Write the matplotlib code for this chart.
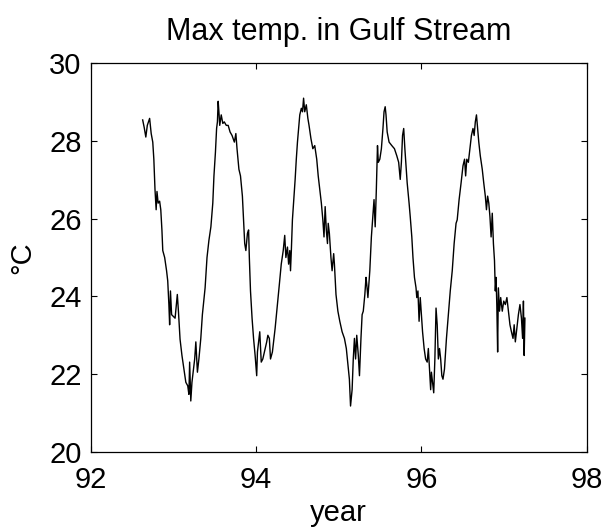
import matplotlib
matplotlib.use("Agg")
import matplotlib.pyplot as plt

plt.rcParams['font.family'] = ['Liberation Sans', 'DejaVu Sans']

# Daily maximum temperature in the Gulf Stream (year since 1900, deg C)
years = [
    92.628, 92.647, 92.666, 92.684, 92.712, 92.731, 92.750, 92.763, 92.777, 92.791,
    92.801, 92.815, 92.833, 92.847, 92.861, 92.871, 92.894, 92.917, 92.931, 92.945,
    92.954, 92.964, 92.978, 92.996, 93.020, 93.047, 93.061, 93.080, 93.103, 93.127,
    93.150, 93.173, 93.187, 93.196, 93.210, 93.224, 93.243, 93.257, 93.271, 93.290,
    93.308, 93.331, 93.350, 93.383, 93.406, 93.429, 93.453, 93.476, 93.490, 93.508,
    93.522, 93.532, 93.541, 93.550, 93.560, 93.578, 93.597, 93.615, 93.639, 93.662,
    93.685, 93.709, 93.737, 93.755, 93.769, 93.792, 93.811, 93.834, 93.848, 93.862,
    93.876, 93.895, 93.909, 93.918, 93.932, 93.951, 93.969, 93.988, 94.007, 94.016,
    94.030, 94.044, 94.062, 94.081, 94.100, 94.128, 94.142, 94.160, 94.174, 94.197,
    94.230, 94.258, 94.281, 94.304, 94.328, 94.346, 94.360, 94.379, 94.393, 94.407,
    94.416, 94.426, 94.439, 94.453, 94.472, 94.486, 94.500, 94.514, 94.528, 94.547,
    94.561, 94.574, 94.588, 94.607, 94.626, 94.640, 94.663, 94.686, 94.709, 94.733,
    94.751, 94.770, 94.789, 94.807, 94.821, 94.835, 94.849, 94.863, 94.872, 94.886,
    94.905, 94.919, 94.938, 94.947, 94.966, 94.989, 95.012, 95.040, 95.068, 95.091,
    95.115, 95.128, 95.142, 95.161, 95.175, 95.189, 95.203, 95.217, 95.236, 95.250,
    95.268, 95.282, 95.296, 95.315, 95.329, 95.338, 95.352, 95.375, 95.394, 95.412,
    95.426, 95.440, 95.454, 95.468, 95.478, 95.496, 95.515, 95.534, 95.547, 95.561,
    95.571, 95.585, 95.608, 95.641, 95.673, 95.701, 95.724, 95.743, 95.757, 95.771,
    95.785, 95.799, 95.813, 95.827, 95.850, 95.864, 95.883, 95.897, 95.915, 95.934,
    95.943, 95.957, 95.971, 95.985, 95.999, 96.013, 96.032, 96.050, 96.069, 96.083,
    96.097, 96.111, 96.120, 96.134, 96.148, 96.162, 96.176, 96.190, 96.204, 96.218,
    96.232, 96.246, 96.260, 96.278, 96.302, 96.325, 96.348, 96.372, 96.395, 96.418,
    96.432, 96.455, 96.479, 96.502, 96.521, 96.534, 96.548, 96.567, 96.586, 96.604,
    96.623, 96.637, 96.651, 96.665, 96.679, 96.693, 96.711, 96.735, 96.753, 96.772,
    96.786, 96.800, 96.814, 96.828, 96.842, 96.856, 96.870, 96.883, 96.893, 96.902,
    96.911, 96.921, 96.930, 96.944, 96.958, 96.977, 96.995, 97.014, 97.033, 97.051,
    97.070, 97.088, 97.107, 97.121, 97.135, 97.154, 97.172, 97.191, 97.209, 97.223,
    97.233, 97.242, 97.251,
]

temps = [
    28.54, 28.34, 28.10, 28.40, 28.58, 28.19, 27.97, 27.53, 26.75, 26.23,
    26.70, 26.40, 26.45, 26.23, 25.70, 25.18, 25.00, 24.66, 24.40, 23.79,
    23.27, 24.14, 23.53, 23.49, 23.44, 24.05, 23.60, 22.90, 22.48, 22.13,
    21.79, 21.70, 21.48, 22.31, 21.31, 21.79, 22.13, 22.39, 22.83, 22.05,
    22.39, 22.92, 23.53, 24.22, 25.00, 25.44, 25.79, 26.40, 27.10, 27.71,
    28.32, 28.49, 29.02, 28.75, 28.40, 28.67, 28.45, 28.49, 28.40, 28.40,
    28.23, 28.14, 27.97, 28.19, 27.80, 27.27, 27.10, 26.58, 25.97, 25.36,
    25.18, 25.62, 25.71, 25.00, 24.14, 23.44, 22.92, 22.48, 21.96, 22.57,
    22.83, 23.09, 22.31, 22.39, 22.57, 22.83, 23.00, 22.92, 22.39, 22.57,
    23.18, 23.79, 24.31, 24.83, 25.18, 25.57, 25.00, 25.27, 24.83, 25.18,
    24.66, 25.18, 25.97, 26.40, 27.01, 27.53, 27.97, 28.32, 28.67, 28.84,
    28.75, 29.10, 28.75, 28.93, 28.58, 28.40, 28.06, 27.80, 27.88, 27.53,
    27.10, 26.75, 26.40, 25.97, 25.53, 26.31, 25.71, 25.36, 25.88, 25.62,
    25.00, 24.66, 25.10, 24.83, 24.05, 23.62, 23.36, 23.09, 22.92, 22.66,
    22.13, 21.87, 21.18, 21.60, 22.39, 22.92, 22.39, 23.00, 22.48, 21.96,
    22.92, 23.53, 23.62, 24.05, 24.49, 24.31, 23.97, 24.66, 25.53, 26.05,
    26.49, 25.79, 26.75, 27.88, 27.45, 27.53, 27.80, 28.32, 28.75, 28.88,
    28.67, 28.23, 27.97, 27.88, 27.80, 27.62, 27.45, 27.01, 27.45, 28.14,
    28.32, 27.80, 27.36, 26.92, 26.40, 26.05, 25.53, 25.00, 24.49, 24.22,
    23.97, 24.14, 23.36, 23.97, 23.53, 23.09, 22.66, 22.39, 22.31, 22.66,
    22.13, 21.60, 22.05, 21.79, 21.52, 22.39, 23.70, 23.27, 22.39, 22.66,
    22.39, 21.96, 21.87, 22.13, 22.92, 23.53, 24.14, 24.66, 25.36, 25.88,
    25.97, 26.49, 26.92, 27.36, 27.53, 27.10, 27.53, 27.45, 27.80, 28.14,
    28.32, 28.14, 28.49, 28.67, 28.32, 27.97, 27.62, 27.27, 26.92, 26.58,
    26.23, 26.58, 26.40, 26.05, 25.53, 26.14, 25.36, 24.92, 24.14, 24.49,
    23.79, 22.57, 24.22, 23.62, 23.97, 23.62, 23.88, 23.79, 23.97, 23.62,
    23.27, 23.09, 22.92, 23.27, 22.83, 23.18, 23.53, 23.79, 23.44, 22.92,
    23.88, 22.48, 23.44,
]

x_ticks = [92, 94, 96, 98]
y_ticks = [20, 22, 24, 26, 28, 30]

fig = plt.figure(figsize=(6.05, 5.31), dpi=100)
ax = fig.add_axes([0.150, 0.149, 0.820, 0.732])

ax.plot(years, temps, color='black', linewidth=1.0)

ax.set_xlim(92, 98)
ax.set_ylim(20, 30)
ax.set_xticks(x_ticks)
ax.set_yticks(y_ticks)
ax.tick_params(direction='in', length=4.5, width=0.8, top=True, right=True,
               labelsize=21)
ax.tick_params(axis='x', pad=10.5)
ax.tick_params(axis='y', pad=6.5)
for spine in ax.spines.values():
    spine.set_linewidth(0.9)

ax.set_title('Max temp. in Gulf Stream', fontsize=22, pad=17)
ax.set_xlabel('year', fontsize=21, labelpad=3)
ax.set_ylabel('°C', fontsize=21, labelpad=9)

fig.savefig('out.png', dpi=100)
